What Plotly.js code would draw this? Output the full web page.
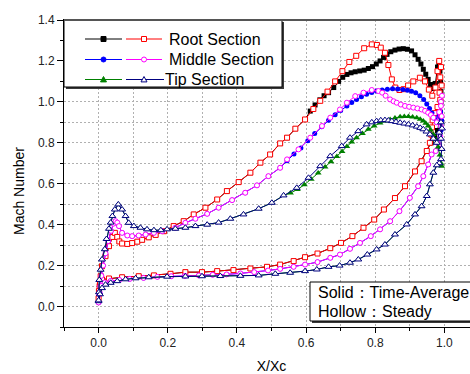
<!DOCTYPE html>
<html><head><meta charset="utf-8">
<script src="https://cdn.plot.ly/plotly-3.0.1.min.js"></script>
<style>html,body{margin:0;padding:0;overflow:hidden;background:#fff}#c{width:500px;height:374px}</style>
</head><body><div id="c"></div>
<script>
// ---------- data ----------
const rootUpperFrontX = [0, 0.003, 0.006, 0.01, 0.02, 0.03, 0.04, 0.047, 0.054, 0.06, 0.068, 0.083, 0.097, 0.112, 0.126, 0.145, 0.165, 0.189, 0.217, 0.246, 0.275, 0.309, 0.343, 0.371, 0.405, 0.439, 0.468, 0.496, 0.525, 0.545, 0.569, 0.597];
const rootUpperFrontY = [0.04, 0.1, 0.148, 0.197, 0.246, 0.295, 0.34, 0.36, 0.34, 0.318, 0.308, 0.306, 0.31, 0.317, 0.326, 0.338, 0.35, 0.368, 0.393, 0.417, 0.45, 0.483, 0.523, 0.564, 0.608, 0.654, 0.703, 0.743, 0.797, 0.825, 0.869, 0.914];
const rootSteadyAftX = [0.621, 0.641, 0.662, 0.684, 0.705, 0.725, 0.745, 0.768, 0.79, 0.805, 0.816, 0.828, 0.838, 0.848, 0.858, 0.87, 0.882, 0.895, 0.91, 0.929, 0.944, 0.955, 0.965, 0.974, 0.98, 0.985, 0.99, 0.988, 0.992, 0.986, 0.988, 0.98, 0.972, 0.966, 0.964, 0.962, 0.958];
const rootSteadyAftY = [0.965, 1.005, 1.05, 1.1, 1.15, 1.195, 1.225, 1.262, 1.281, 1.278, 1.265, 1.24, 1.18, 1.11, 1.07, 1.058, 1.062, 1.08, 1.10, 1.118, 1.10, 1.06, 1.03, 1.07, 1.15, 1.2, 1.17, 1.12, 1.08, 1.045, 1.01, 0.975, 0.945, 0.91, 0.875, 0.84, 0.80];
const rootTAAftX = [0.612, 0.626, 0.64, 0.652, 0.665, 0.68, 0.694, 0.706, 0.718, 0.73, 0.742, 0.755, 0.768, 0.78, 0.792, 0.803, 0.814, 0.824, 0.834, 0.845, 0.857, 0.869, 0.881, 0.893, 0.905, 0.915, 0.924, 0.932, 0.939, 0.946, 0.953, 0.96, 0.967, 0.974, 0.98, 0.984, 0.987, 0.989, 0.99, 0.99, 0.988, 0.985, 0.98, 0.972, 0.962];
const rootTAAftY = [0.955, 0.985, 1.01, 1.03, 1.045, 1.07, 1.10, 1.12, 1.134, 1.142, 1.147, 1.151, 1.155, 1.163, 1.172, 1.185, 1.20, 1.217, 1.232, 1.245, 1.253, 1.258, 1.26, 1.257, 1.249, 1.23, 1.208, 1.185, 1.159, 1.135, 1.11, 1.085, 1.065, 1.09, 1.17, 1.19, 1.15, 1.10, 1.05, 1.0, 0.95, 0.90, 0.86, 0.83, 0.80];
const rootLowerX = [0.949, 0.934, 0.915, 0.886, 0.857, 0.825, 0.797, 0.766, 0.734, 0.701, 0.67, 0.633, 0.597, 0.564, 0.525, 0.487, 0.439, 0.39, 0.343, 0.299, 0.251, 0.208, 0.16, 0.116, 0.068, 0.03, 0.01, 0.004, 0.001];
const rootLowerY = [0.76, 0.71, 0.66, 0.588, 0.53, 0.474, 0.425, 0.385, 0.344, 0.311, 0.285, 0.259, 0.241, 0.222, 0.205, 0.194, 0.186, 0.178, 0.173, 0.168, 0.168, 0.16, 0.152, 0.148, 0.143, 0.137, 0.132, 0.11, 0.075];

const midUpperFrontX = [0, 0.002, 0.005, 0.008, 0.013, 0.02, 0.028, 0.036, 0.043, 0.049, 0.054, 0.059, 0.068, 0.083, 0.097, 0.116, 0.136, 0.16, 0.184, 0.222, 0.251, 0.28, 0.314, 0.347, 0.386, 0.424, 0.458, 0.491, 0.525];
const midUpperFrontY = [0.02, 0.06, 0.1, 0.15, 0.2, 0.26, 0.32, 0.37, 0.405, 0.417, 0.41, 0.393, 0.36, 0.347, 0.344, 0.347, 0.352, 0.36, 0.368, 0.385, 0.409, 0.429, 0.453, 0.483, 0.52, 0.556, 0.592, 0.637, 0.678];
const midSteadyAftX = [0.545, 0.578, 0.612, 0.646, 0.67, 0.698, 0.718, 0.742, 0.766, 0.79, 0.809, 0.82, 0.83, 0.843, 0.853, 0.862, 0.874, 0.886, 0.898, 0.91, 0.922, 0.934, 0.944, 0.953, 0.961, 0.968, 0.978, 0.985, 0.99, 0.993, 0.99, 0.992, 0.99, 0.988, 0.984, 0.975];
const midSteadyAftY = [0.719, 0.768, 0.825, 0.882, 0.923, 0.963, 0.996, 1.028, 1.045, 1.058, 1.053, 1.045, 1.03, 1.012, 1.003, 0.996, 0.987, 0.98, 0.976, 0.972, 0.968, 0.963, 0.956, 0.947, 0.936, 0.923, 0.9, 0.95, 1.0, 1.03, 0.98, 0.93, 0.88, 0.83, 0.79, 0.76];
const midTAAftX = [0.545, 0.565, 0.585, 0.605, 0.625, 0.645, 0.665, 0.684, 0.70, 0.718, 0.732, 0.746, 0.76, 0.775, 0.79, 0.804, 0.82, 0.835, 0.85, 0.865, 0.88, 0.893, 0.905, 0.917, 0.929, 0.94, 0.949, 0.957, 0.964, 0.971, 0.978, 0.984, 0.989, 0.992, 0.99, 0.988, 0.984, 0.975];
const midTAAftY = [0.712, 0.745, 0.775, 0.81, 0.845, 0.878, 0.91, 0.937, 0.958, 0.98, 0.997, 1.012, 1.025, 1.037, 1.046, 1.053, 1.058, 1.062, 1.064, 1.063, 1.061, 1.057, 1.052, 1.044, 1.03, 1.012, 0.99, 0.968, 0.945, 0.92, 0.9, 0.93, 0.95, 0.91, 0.86, 0.82, 0.79, 0.76];
const midLowerX = [0.963, 0.953, 0.939, 0.924, 0.9, 0.87, 0.843, 0.814, 0.787, 0.756, 0.727, 0.698, 0.67, 0.633, 0.597, 0.564, 0.525, 0.49, 0.45, 0.41, 0.37, 0.33, 0.29, 0.25, 0.21, 0.17, 0.13, 0.09, 0.06, 0.035, 0.018, 0.008, 0.003];
const midLowerY = [0.743, 0.694, 0.637, 0.588, 0.531, 0.466, 0.417, 0.377, 0.344, 0.311, 0.282, 0.254, 0.238, 0.217, 0.205, 0.194, 0.184, 0.176, 0.168, 0.162, 0.157, 0.155, 0.152, 0.15, 0.148, 0.145, 0.14, 0.135, 0.13, 0.125, 0.118, 0.1, 0.07];

const tipUpperFrontX = [0, 0.001, 0.002, 0.006, 0.01, 0.018, 0.023, 0.03, 0.035, 0.04, 0.047, 0.057, 0.068, 0.078, 0.087, 0.102, 0.121, 0.14, 0.16, 0.18, 0.198, 0.222, 0.251, 0.28, 0.314, 0.347, 0.381, 0.419, 0.463, 0.501, 0.535];
const tipUpperFrontY = [0.026, 0.07, 0.13, 0.18, 0.23, 0.28, 0.33, 0.38, 0.41, 0.442, 0.474, 0.499, 0.474, 0.442, 0.409, 0.393, 0.385, 0.377, 0.373, 0.373, 0.377, 0.38, 0.385, 0.393, 0.4, 0.41, 0.429, 0.45, 0.478, 0.507, 0.543];
const tipSteadyAftX = [0.573, 0.607, 0.641, 0.67, 0.703, 0.727, 0.751, 0.775, 0.79, 0.804, 0.816, 0.828, 0.838, 0.848, 0.86, 0.872, 0.884, 0.896, 0.908, 0.92, 0.93, 0.939, 0.948, 0.958, 0.968, 0.978, 0.985, 0.99, 0.993, 0.99, 0.992, 0.99, 0.985, 0.978];
const tipSteadyAftY = [0.58, 0.629, 0.686, 0.735, 0.784, 0.825, 0.857, 0.89, 0.9, 0.906, 0.91, 0.911, 0.909, 0.906, 0.902, 0.898, 0.894, 0.89, 0.885, 0.879, 0.873, 0.866, 0.855, 0.841, 0.82, 0.8, 0.85, 0.9, 0.87, 0.82, 0.77, 0.72, 0.7, 0.69];
const tipTAAftX = [0.555, 0.575, 0.595, 0.615, 0.635, 0.655, 0.672, 0.689, 0.704, 0.718, 0.732, 0.746, 0.763, 0.78, 0.797, 0.814, 0.828, 0.843, 0.857, 0.872, 0.884, 0.896, 0.908, 0.92, 0.93, 0.939, 0.946, 0.953, 0.96, 0.968, 0.976, 0.982, 0.987, 0.99, 0.992, 0.99, 0.985, 0.978];
const tipTAAftY = [0.555, 0.572, 0.595, 0.622, 0.652, 0.682, 0.707, 0.733, 0.758, 0.782, 0.804, 0.825, 0.846, 0.866, 0.882, 0.897, 0.906, 0.914, 0.921, 0.927, 0.929, 0.928, 0.926, 0.922, 0.915, 0.906, 0.895, 0.882, 0.862, 0.84, 0.815, 0.78, 0.74, 0.7, 0.686, 0.69, 0.69, 0.69];
const tipLowerX = [0.968, 0.958, 0.949, 0.934, 0.915, 0.891, 0.857, 0.828, 0.804, 0.777, 0.751, 0.727, 0.697, 0.665, 0.631, 0.597, 0.554, 0.511, 0.463, 0.41, 0.352, 0.299, 0.251, 0.198, 0.145, 0.107, 0.078, 0.054, 0.035, 0.02, 0.01, 0.004, 0];
const tipLowerY = [0.654, 0.597, 0.54, 0.49, 0.45, 0.401, 0.352, 0.303, 0.279, 0.254, 0.23, 0.214, 0.2, 0.194, 0.181, 0.173, 0.165, 0.16, 0.152, 0.15, 0.149, 0.148, 0.147, 0.146, 0.143, 0.138, 0.133, 0.124, 0.116, 0.107, 0.09, 0.06, 0.03];

const seriesNames = ['Root Section', 'Middle Section', 'Tip Section'];
const noteLines = ['Solid：Time-Average', 'Hollow：Steady'];
const xTitle = 'X/Xc';
const yTitle = 'Mach Number';

// ---------- build ----------
const cat = (...a) => [].concat(...a);
const FONT = 'Arial, "Liberation Sans", sans-serif';

function tr(x, y, color, sym, hollow, size) {
  return {
    type: 'scatter', mode: 'lines+markers', x: x, y: y, showlegend: false, hoverinfo: 'skip',
    line: {color: color, width: 1},
    marker: hollow ? {symbol: sym, size: size, color: '#ffffff', line: {color: color, width: 1}}
                   : {symbol: sym, size: size, color: color, line: {width: 0}}
  };
}
const C = {black: '#000000', red: '#ff0000', blue: '#0000ff', mag: '#ff00ff', green: '#008000', navy: '#000080'};

const traces = [
  tr(cat(rootUpperFrontX, rootTAAftX, rootLowerX), cat(rootUpperFrontY, rootTAAftY, rootLowerY), C.black, 'square', false, 5),
  tr(cat(rootUpperFrontX, rootSteadyAftX, rootLowerX), cat(rootUpperFrontY, rootSteadyAftY, rootLowerY), C.red, 'square', true, 5),
  tr(cat(midUpperFrontX, midTAAftX, midLowerX), cat(midUpperFrontY, midTAAftY, midLowerY), C.blue, 'circle', false, 5),
  tr(cat(midUpperFrontX, midSteadyAftX, midLowerX), cat(midUpperFrontY, midSteadyAftY, midLowerY), C.mag, 'circle', true, 5),
  tr(cat(tipUpperFrontX, tipTAAftX, tipLowerX), cat(tipUpperFrontY, tipTAAftY, tipLowerY), C.green, 'triangle-up', false, 6),
  tr(cat(tipUpperFrontX, tipSteadyAftX, tipLowerX), cat(tipUpperFrontY, tipSteadyAftY, tipLowerY), C.navy, 'triangle-up', true, 6)
];

// layout helpers (pixel -> paper), plot area 64..479 x 20..327
const PL = 64, PR = 479, PT = 20, PB = 327;
const fx = px => (px - PL) / (PR - PL);
const fy = py => (PB - py) / (PB - PT);

const shapes = [];
const annotations = [];
function box(x0, y0, x1, y1) {
  shapes.push({type: 'rect', xref: 'paper', yref: 'paper', layer: 'above', x0: fx(x0 + 2), x1: fx(x1 + 2), y0: fy(y1 + 2), y1: fy(y0 + 2), fillcolor: '#3a3a3a', line: {width: 0}});
  shapes.push({type: 'rect', xref: 'paper', yref: 'paper', layer: 'above', x0: fx(x0), x1: fx(x1), y0: fy(y1), y1: fy(y0), fillcolor: '#ffffff', line: {color: '#000', width: 1}});
}
box(64, 20, 282, 87);
box(310, 282, 520, 321);
// thicker top frame
shapes.push({type: 'line', xref: 'paper', yref: 'paper', layer: 'above', x0: 0, x1: 1.2, y0: 1, y1: 1, line: {color: '#555', width: 2}});

function sampleMarker(sym, cx, cy, color, hollow, s) {
  const base = {xref: 'paper', yref: 'paper', layer: 'above', xsizemode: 'pixel', ysizemode: 'pixel',
    xanchor: fx(cx), yanchor: fy(cy), fillcolor: hollow ? '#fff' : color, line: {color: color, width: 1}};
  const h = s / 2;
  if (sym === 'square') return Object.assign(base, {type: 'rect', x0: -h, x1: h, y0: -h, y1: h});
  if (sym === 'circle') return Object.assign(base, {type: 'circle', x0: -h, x1: h, y0: -h, y1: h});
  return Object.assign(base, {type: 'path', path: 'M' + (-h) + ',' + (-0.4 * s) + ' L' + h + ',' + (-0.4 * s) + ' L0,' + (0.5 * s) + ' Z'});
}
const rowsY = [39, 59.5, 79.5];
const legendSpec = [[C.black, C.red, 'square'], [C.blue, C.mag, 'circle'], [C.green, C.navy, 'triangle']];
legendSpec.forEach((r, i) => {
  const y = rowsY[i];
  shapes.push({type: 'line', xref: 'paper', yref: 'paper', layer: 'above', x0: fx(85), x1: fx(122), y0: fy(y), y1: fy(y), line: {color: r[0], width: 1}});
  shapes.push({type: 'line', xref: 'paper', yref: 'paper', layer: 'above', x0: fx(126), x1: fx(i === 2 ? 164 : 162), y0: fy(y), y1: fy(y), line: {color: r[1], width: 1}});
  shapes.push(sampleMarker(r[2], 103.5, y, r[0], false, r[2] === 'triangle' ? 6 : 5));
  shapes.push(sampleMarker(r[2], 144, y, r[1], true, r[2] === 'triangle' ? 6 : 5));
  annotations.push({xref: 'paper', yref: 'paper', x: fx(i === 2 ? 163 : 167), y: fy(y), xanchor: 'left', yanchor: 'middle',
    text: seriesNames[i], showarrow: false, font: {family: FONT, size: 16, color: '#000'}});
});
noteLines.forEach((t, i) => {
  annotations.push({xref: 'paper', yref: 'paper', x: fx(316), y: fy(i === 0 ? 292 : 311.5), xanchor: 'left', yanchor: 'middle',
    text: t, showarrow: false, font: {family: FONT, size: 16, color: '#000'}});
});
annotations.push({xref: 'paper', yref: 'paper', x: fx(19), y: fy(191), xanchor: 'center', yanchor: 'middle', textangle: -90,
  text: yTitle, showarrow: false, font: {family: FONT, size: 14, color: '#000'}});

const grid = {gridcolor: '#b0b0b0', griddash: '2px,2px', gridwidth: 1};
const axisCommon = {
  showline: true, linecolor: '#000', linewidth: 1, mirror: true, zeroline: false,
  ticks: 'outside', tickcolor: '#000', tickwidth: 1, tickformat: '.1f', tick0: 0, dtick: 0.2,
  tickfont: {family: FONT, size: 12, color: '#222'}, showgrid: true, ...grid,
  minor: {dtick: 0.1, ticks: 'outside', ticklen: 3, tickcolor: '#000', tickwidth: 1, showgrid: true, ...grid}
};
const layout = {
  width: 500, height: 374, margin: {l: PL, r: 500 - PR, t: PT, b: 374 - PB},
  paper_bgcolor: '#fff', plot_bgcolor: '#fff', showlegend: false,
  font: {family: FONT},
  xaxis: Object.assign({}, axisCommon, {range: [-0.1, 1.1], ticklen: 5,
    title: {text: xTitle, font: {family: FONT, size: 14, color: '#000'}, standoff: 14}}),
  yaxis: Object.assign({}, axisCommon, {range: [-0.1, 1.4], ticklen: 6}),
  shapes: shapes, annotations: annotations
};
Plotly.newPlot('c', traces, layout, {staticPlot: true, displayModeBar: false});
</script></body></html>
